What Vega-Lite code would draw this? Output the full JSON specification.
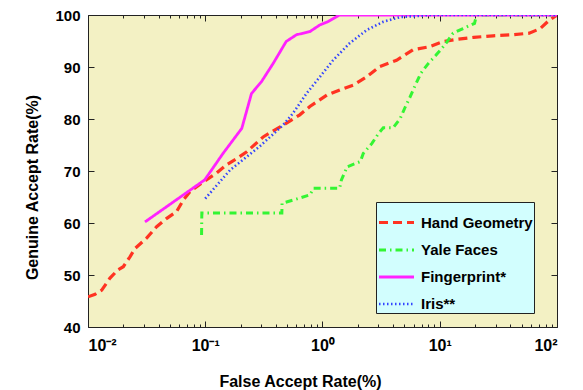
{
  "$schema": "https://vega.github.io/schema/vega-lite/v6.json",
  "autosize": {"type": "none"},
  "padding": {"left": 88, "top": 15, "right": 26, "bottom": 63},
  "width": 469,
  "height": 312,
  "background": "white",
  "config": {
    "view": {"fill": "#F3F1C4", "stroke": "#222222", "strokeWidth": 1},
    "font": "Liberation Sans",
    "axis": {"domain": false, "grid": false, "tickColor": "#222222", "tickWidth": 1,
             "labelFont": "Liberation Sans", "labelFontWeight": "bold", "labelFontSize": 15, "labelColor": "black",
             "titleFont": "Liberation Sans", "titleFontWeight": "bold", "titleFontSize": 16, "titleColor": "black"}
  },
  "data": {"values": [
    {"s": "Hand Geometry", "x": 0.01, "y": 45.8},
    {"s": "Hand Geometry", "x": 0.0115, "y": 46.3},
    {"s": "Hand Geometry", "x": 0.0131, "y": 47.1},
    {"s": "Hand Geometry", "x": 0.0154, "y": 49.4},
    {"s": "Hand Geometry", "x": 0.018, "y": 51.0},
    {"s": "Hand Geometry", "x": 0.020, "y": 51.6},
    {"s": "Hand Geometry", "x": 0.0228, "y": 53.5},
    {"s": "Hand Geometry", "x": 0.0252, "y": 55.1},
    {"s": "Hand Geometry", "x": 0.0316, "y": 57.1},
    {"s": "Hand Geometry", "x": 0.0385, "y": 59.3},
    {"s": "Hand Geometry", "x": 0.047, "y": 60.9},
    {"s": "Hand Geometry", "x": 0.057, "y": 62.2},
    {"s": "Hand Geometry", "x": 0.065, "y": 64.4},
    {"s": "Hand Geometry", "x": 0.074, "y": 66.0},
    {"s": "Hand Geometry", "x": 0.096, "y": 67.9},
    {"s": "Hand Geometry", "x": 0.125, "y": 69.6},
    {"s": "Hand Geometry", "x": 0.152, "y": 71.2},
    {"s": "Hand Geometry", "x": 0.186, "y": 72.4},
    {"s": "Hand Geometry", "x": 0.226, "y": 73.7},
    {"s": "Hand Geometry", "x": 0.314, "y": 76.6},
    {"s": "Hand Geometry", "x": 0.46, "y": 78.8},
    {"s": "Hand Geometry", "x": 0.64, "y": 80.8},
    {"s": "Hand Geometry", "x": 0.78, "y": 82.4},
    {"s": "Hand Geometry", "x": 1.09, "y": 84.6},
    {"s": "Hand Geometry", "x": 1.41, "y": 85.6},
    {"s": "Hand Geometry", "x": 1.83, "y": 86.5},
    {"s": "Hand Geometry", "x": 2.38, "y": 88.1},
    {"s": "Hand Geometry", "x": 3.08, "y": 90.1},
    {"s": "Hand Geometry", "x": 4.28, "y": 91.3},
    {"s": "Hand Geometry", "x": 5.9, "y": 93.3},
    {"s": "Hand Geometry", "x": 8.2, "y": 93.9},
    {"s": "Hand Geometry", "x": 10.7, "y": 94.9},
    {"s": "Hand Geometry", "x": 13.9, "y": 95.3},
    {"s": "Hand Geometry", "x": 19.5, "y": 95.7},
    {"s": "Hand Geometry", "x": 28.5, "y": 96.0},
    {"s": "Hand Geometry", "x": 42, "y": 96.2},
    {"s": "Hand Geometry", "x": 58, "y": 96.5},
    {"s": "Hand Geometry", "x": 72, "y": 97.4},
    {"s": "Hand Geometry", "x": 85, "y": 98.9},
    {"s": "Hand Geometry", "x": 100, "y": 100},
    {"s": "Yale Faces", "x": 0.093, "y": 57.7},
    {"s": "Yale Faces", "x": 0.0935, "y": 61.9},
    {"s": "Yale Faces", "x": 0.45, "y": 61.9},
    {"s": "Yale Faces", "x": 0.452, "y": 63.8},
    {"s": "Yale Faces", "x": 0.56, "y": 64.4},
    {"s": "Yale Faces", "x": 0.78, "y": 65.4},
    {"s": "Yale Faces", "x": 0.84, "y": 66.7},
    {"s": "Yale Faces", "x": 1.4, "y": 66.7},
    {"s": "Yale Faces", "x": 1.45, "y": 68.3},
    {"s": "Yale Faces", "x": 1.62, "y": 70.8},
    {"s": "Yale Faces", "x": 2.1, "y": 71.8},
    {"s": "Yale Faces", "x": 2.23, "y": 73.4},
    {"s": "Yale Faces", "x": 2.64, "y": 75.3},
    {"s": "Yale Faces", "x": 3.0, "y": 77.2},
    {"s": "Yale Faces", "x": 3.3, "y": 78.3},
    {"s": "Yale Faces", "x": 4.0, "y": 78.3},
    {"s": "Yale Faces", "x": 4.6, "y": 80.1},
    {"s": "Yale Faces", "x": 5.1, "y": 82.4},
    {"s": "Yale Faces", "x": 5.6, "y": 84.3},
    {"s": "Yale Faces", "x": 6.1, "y": 86.2},
    {"s": "Yale Faces", "x": 6.9, "y": 88.8},
    {"s": "Yale Faces", "x": 8.0, "y": 90.7},
    {"s": "Yale Faces", "x": 9.3, "y": 92.3},
    {"s": "Yale Faces", "x": 11.0, "y": 94.2},
    {"s": "Yale Faces", "x": 13.0, "y": 96.5},
    {"s": "Yale Faces", "x": 15.8, "y": 97.4},
    {"s": "Yale Faces", "x": 19.8, "y": 98.4},
    {"s": "Yale Faces", "x": 20.3, "y": 99.4},
    {"s": "Yale Faces", "x": 21, "y": 100},
    {"s": "Yale Faces", "x": 100, "y": 100},
    {"s": "Fingerprint*", "x": 0.0306, "y": 60.2},
    {"s": "Fingerprint*", "x": 0.099, "y": 68.3},
    {"s": "Fingerprint*", "x": 0.142, "y": 73.4},
    {"s": "Fingerprint*", "x": 0.205, "y": 78.2},
    {"s": "Fingerprint*", "x": 0.248, "y": 84.9},
    {"s": "Fingerprint*", "x": 0.302, "y": 87.2},
    {"s": "Fingerprint*", "x": 0.38, "y": 90.7},
    {"s": "Fingerprint*", "x": 0.49, "y": 94.9},
    {"s": "Fingerprint*", "x": 0.60, "y": 96.2},
    {"s": "Fingerprint*", "x": 0.78, "y": 96.8},
    {"s": "Fingerprint*", "x": 0.95, "y": 98.1},
    {"s": "Fingerprint*", "x": 1.11, "y": 98.7},
    {"s": "Fingerprint*", "x": 1.4, "y": 100},
    {"s": "Fingerprint*", "x": 100, "y": 100},
    {"s": "Iris**", "x": 0.1, "y": 64.7},
    {"s": "Iris**", "x": 0.163, "y": 70.2},
    {"s": "Iris**", "x": 0.29, "y": 74.7},
    {"s": "Iris**", "x": 0.46, "y": 78.8},
    {"s": "Iris**", "x": 0.56, "y": 81.1},
    {"s": "Iris**", "x": 0.73, "y": 84.9},
    {"s": "Iris**", "x": 0.95, "y": 88.1},
    {"s": "Iris**", "x": 1.23, "y": 91.3},
    {"s": "Iris**", "x": 1.71, "y": 94.6},
    {"s": "Iris**", "x": 2.38, "y": 97.1},
    {"s": "Iris**", "x": 3.3, "y": 98.7},
    {"s": "Iris**", "x": 4.6, "y": 99.6},
    {"s": "Iris**", "x": 6.4, "y": 99.8},
    {"s": "Iris**", "x": 8, "y": 100},
    {"s": "Iris**", "x": 100, "y": 100}
  ]},
  "resolve": {"axis": {"x": "independent", "y": "independent"}},
  "layer": [
    {
      "mark": {"type": "line", "clip": true},
      "encoding": {
        "x": {"field": "x", "type": "quantitative",
              "scale": {"type": "log", "domain": [0.01, 100], "nice": false},
              "axis": {"orient": "bottom", "values": [0.01, 0.1, 1, 10, 100], "tickSize": -6, "labelPadding": 16, "labelFontSize": 16,
                       "labelExpr": "datum.value < 0.05 ? '10⁻²' : datum.value < 0.5 ? '10⁻¹' : datum.value < 5 ? '10⁰' : datum.value < 50 ? '10¹' : '10²'",
                       "title": "False Accept Rate(%)", "titlePadding": 20, "titleX": 212}},
        "y": {"field": "y", "type": "quantitative",
              "scale": {"domain": [40, 100], "nice": false, "zero": false},
              "axis": {"orient": "left", "values": [40, 50, 60, 70, 80, 90, 100], "tickSize": -6, "labelPadding": 14,
                       "title": "Genuine Accept Rate(%)", "titlePadding": 14, "titleY": 172}},
        "color": {"field": "s", "type": "nominal",
                  "scale": {"domain": ["Hand Geometry", "Yale Faces", "Fingerprint*", "Iris**"],
                            "range": ["#FF3322", "#33F533", "#FF22FF", "#3344FF"]},
                  "legend": {"title": null, "orient": "none", "legendX": 288, "legendY": 187,
                             "fillColor": "#D2FEFE", "strokeColor": "#222222", "padding": 1,
                             "symbolType": "stroke", "symbolSize": 1225, "symbolStrokeWidth": 2.5,
                             "labelFont": "Liberation Sans", "labelFontWeight": "bold", "labelFontSize": 15,
                             "labelColor": "black", "labelOffset": 5, "rowPadding": 0}},
        "strokeDash": {"field": "s", "type": "nominal",
                       "scale": {"domain": ["Hand Geometry", "Yale Faces", "Fingerprint*", "Iris**"],
                                 "range": [[9, 5], [7, 4, 1.5, 4], [1, 0], [1.5, 2.5]]}},
        "strokeWidth": {"field": "s", "type": "nominal",
                        "scale": {"domain": ["Hand Geometry", "Yale Faces", "Fingerprint*", "Iris**"],
                                  "range": [3.2, 2.6, 3, 1.6]},
                        "legend": null}
      }
    },
    {
      "mark": {"type": "point", "opacity": 0},
      "encoding": {
        "x": {"field": "x", "type": "quantitative",
              "axis": {"orient": "bottom", "values": [0.02,0.03,0.04,0.05,0.06,0.07,0.08,0.09,0.2,0.3,0.4,0.5,0.6,0.7,0.8,0.9,2,3,4,5,6,7,8,9,20,30,40,50,60,70,80,90],
                       "tickSize": -3, "labels": false, "title": null}},
        "y": {"field": "y", "type": "quantitative",
              "axis": {"orient": "right", "values": [40, 50, 60, 70, 80, 90, 100], "tickSize": -6, "labels": false, "title": null}}
      }
    },
    {
      "mark": {"type": "point", "opacity": 0},
      "encoding": {
        "x": {"field": "x", "type": "quantitative",
              "axis": {"orient": "top", "values": [0.01, 0.1, 1, 10, 100], "tickSize": -6, "labels": false, "title": null}},
        "y": {"field": "y", "type": "quantitative", "axis": null}
      }
    },
    {
      "mark": {"type": "point", "opacity": 0},
      "encoding": {
        "x": {"field": "x", "type": "quantitative",
              "axis": {"orient": "top", "values": [0.02,0.03,0.04,0.05,0.06,0.07,0.08,0.09,0.2,0.3,0.4,0.5,0.6,0.7,0.8,0.9,2,3,4,5,6,7,8,9,20,30,40,50,60,70,80,90],
                       "tickSize": -3, "labels": false, "title": null}},
        "y": {"field": "y", "type": "quantitative", "axis": null}
      }
    }
  ]
}
